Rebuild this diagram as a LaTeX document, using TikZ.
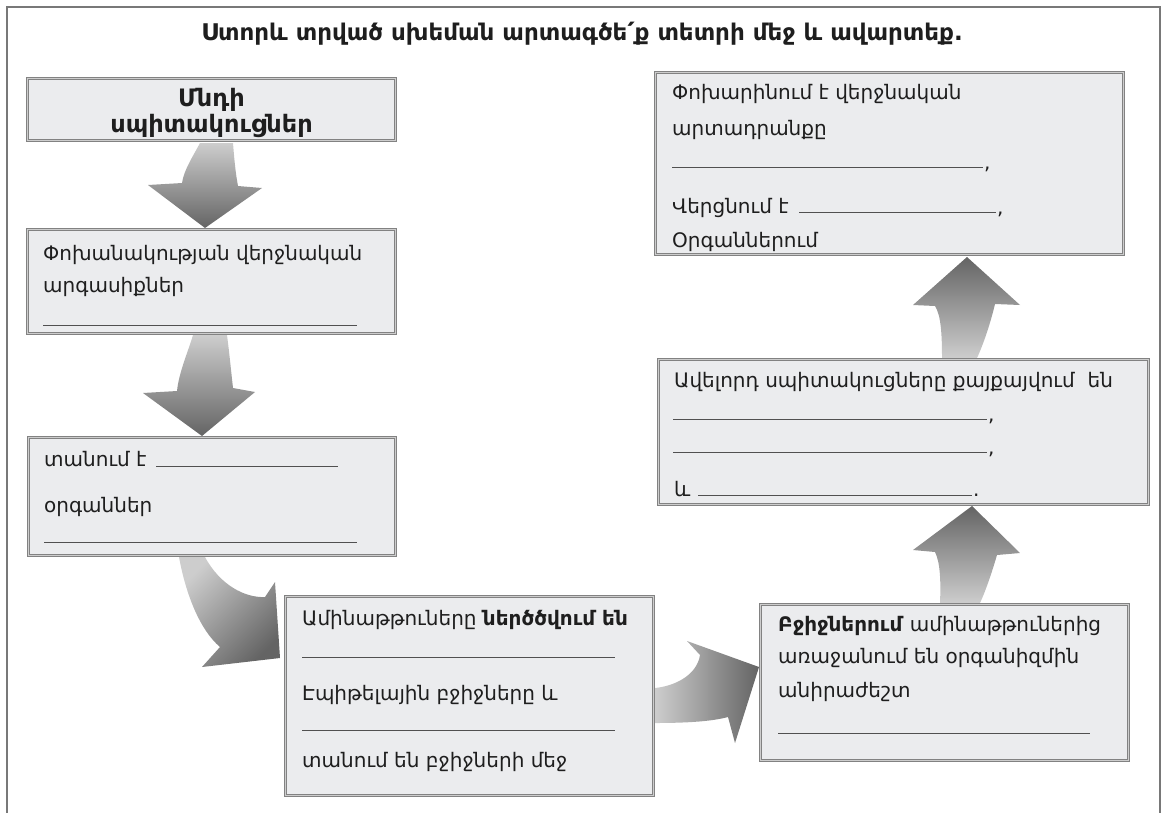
\documentclass[tikz,border=0pt]{standalone}
\usepackage{fontspec}
\setmainfont{DejaVu Sans}
\definecolor{boxfill}{RGB}{235,236,238}
\definecolor{bordergray}{RGB}{130,130,130}
\definecolor{doublegray}{RGB}{205,205,205}
\definecolor{framegray}{RGB}{120,120,120}
\definecolor{arrowlight}{RGB}{205,205,205}
\definecolor{arrowdark}{RGB}{100,100,100}
\definecolor{linecol}{RGB}{80,80,80}
\definecolor{textcol}{RGB}{30,30,30}
\tikzset{
  boxnode/.style={draw=bordergray, line width=0.7pt, double=doublegray, double distance=1.6pt, fill=boxfill, inner sep=0pt, rectangle},
  txt/.style={anchor=base west, inner sep=0pt, text=textcol, font=\fontsize{20}{24}\selectfont},
  ctxt/.style={anchor=base, inner sep=0pt, text=textcol, font=\fontsize{24}{28}\selectfont\bfseries},
  blank/.style={draw=linecol, line width=1pt},
  arrV/.style={top color=arrowlight, bottom color=arrowdark},
  arrUp/.style={top color=arrowdark, bottom color=arrowlight},
  arrH/.style={left color=arrowlight, right color=arrowdark},
  arrD/.style={top color=arrowlight, bottom color=arrowdark, shading angle=45}
}
\begin{document}
\begin{tikzpicture}[x=1pt,y=-1pt]
\useasboundingbox (0,0) rectangle (1164,812);
% frame
\draw[framegray, line width=1.2pt] (7,830) -- (7,7) -- (1160,7) -- (1160,830);
% title
\node[anchor=base, inner sep=0pt, text=textcol, font=\fontsize{23}{26}\selectfont\bfseries] (title) at (582,40) {Ստորև տրված սխեման արտագծե՛ք տետրի մեջ և ավարտեք.};
% arrows
\shade[arrV] (200,143) .. controls (192,158) and (184,170) .. (182,183) -- (148,185) -- (205,228) -- (262,188) -- (238,186) .. controls (235,170) and (234,155) .. (233,143) -- cycle;
\shade[arrV] (193,335) .. controls (188,352) and (179,372) .. (177,391) -- (143,393) -- (202,436) -- (255,392) -- (233,388) .. controls (231,370) and (229,350) .. (227,335) -- cycle;
\shade[arrD] (179,557) .. controls (186,595) and (200,630) .. (220,647) -- (202,667) -- (280,658) -- (275,582) -- (265,597) .. controls (245,598) and (220,585) .. (205,557) -- cycle;
\shade[arrH] (655,688) .. controls (675,686) and (697,675) .. (700,655) -- (687,641) -- (759,667) -- (735,743) -- (728,717) .. controls (710,722) and (680,723) .. (655,723) -- cycle;
\shade[arrUp] (940,603) .. controls (941,580) and (940,562) .. (935,552) -- (913,550) -- (972,506) -- (1020,553) -- (997,555) .. controls (992,572) and (986,590) .. (980,603) -- cycle;
\shade[arrUp] (942,358) .. controls (942,335) and (941,315) .. (935,306) -- (913,305) -- (967,257) -- (1020,305) -- (995,304) .. controls (990,325) and (983,345) .. (977,358) -- cycle;
% boxes
\node[boxnode, minimum width=368pt, minimum height=62pt] (b1) at (211.5,109.5) {};
\node[boxnode, minimum width=368pt, minimum height=104pt] (b2) at (211.5,281.5) {};
\node[boxnode, minimum width=367pt, minimum height=118pt] (b3) at (212,496.5) {};
\node[boxnode, minimum width=368pt, minimum height=199pt] (b4) at (469.5,696) {};
\node[boxnode, minimum width=368pt, minimum height=156pt] (b5) at (944.5,682.5) {};
\node[boxnode, minimum width=468pt, minimum height=182pt] (b6) at (889.5,163.5) {};
\node[boxnode, minimum width=490pt, minimum height=145pt] (b7) at (903.5,432) {};
% box 1
\node[ctxt] (t11) at (211.5,106) {Մնդի};
\node[ctxt] (t12) at (211.5,132) {սպիտակուցներ};
% box 2
\node[txt] (t21) at (43,260) {Փոխանակության վերջնական};
\node[txt] (t22) at (43,292) {արգասիքներ};
\draw[blank] (43,325) -- (357,325);
% box 3
\node[txt] (t31) at (44,466) {տանում է};
\draw[blank] (156,466) -- (338,466);
\node[txt] (t32) at (44,512) {օրգաններ};
\draw[blank] (44,542) -- (357,542);
% box 4
\node[txt] (t41) at (302,625) {Ամինաթթուները \textbf{ներծծվում են}};
\draw[blank] (302,657) -- (615,657);
\node[txt] (t42) at (302,700) {Էպիթելային բջիջները և};
\draw[blank] (302,730) -- (615,730);
\node[txt] (t43) at (302,767) {տանում են բջիջների մեջ};
% box 5
\node[txt] (t51) at (778,631) {\textbf{Բջիջներում} ամինաթթուներից};
\node[txt] (t52) at (778,663) {առաջանում են օրգանիզմին};
\node[txt] (t53) at (778,697) {անիրաժեշտ};
\draw[blank] (778,733) -- (1090,733);
% box 6
\node[txt] (t61) at (672,99) {Փոխարինում է վերջնական};
\node[txt] (t62) at (672,135) {արտադրանքը};
\draw[blank] (672,167) -- (983,167);
\node[txt] (c61) at (984,169) {,};
\node[txt] (t63) at (672,213) {Վերցնում է};
\draw[blank] (799,212) -- (996,212);
\node[txt] (c62) at (997,214) {,};
\node[txt] (t64) at (672,247) {Օրգաններում};
% box 7
\node[txt] (t71) at (674,387) {Ավելորդ սպիտակուցները քայքայվում\ \ են};
\draw[blank] (673,419) -- (987,419);
\node[txt] (c71) at (988,421) {,};
\draw[blank] (673,452) -- (987,452);
\node[txt] (c72) at (988,454) {,};
\node[txt] (t72) at (674,496) {և};
\draw[blank] (698,495) -- (972,495);
\node[txt] (c73) at (973,496) {.};
\end{tikzpicture}
\end{document}
